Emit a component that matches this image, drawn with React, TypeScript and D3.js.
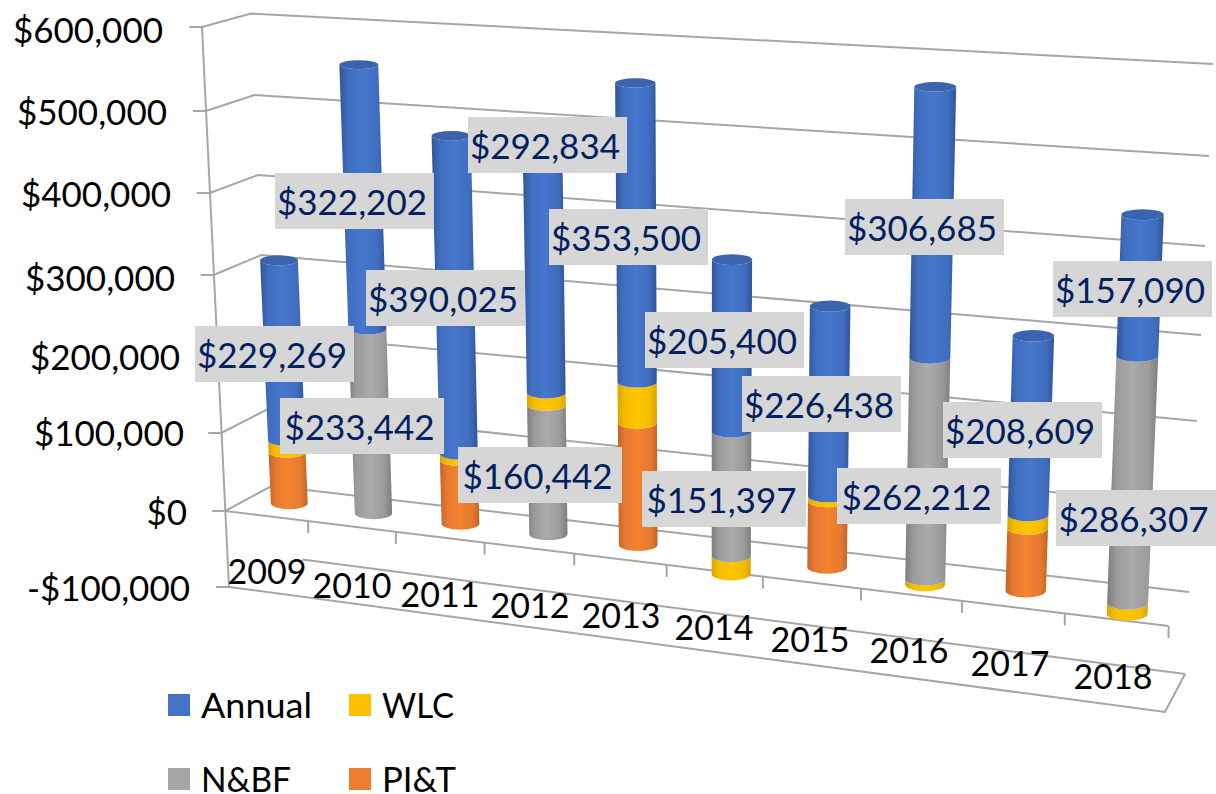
import React from "react";
import * as d3 from "d3";

const years = ["2009","2010","2011","2012","2013","2014","2015","2016","2017","2018"];
const annual = [229269,322202,390025,292834,353500,205400,226438,306685,208609,157090];
const nbf = [0,233442,0,160442,0,151397,0,262212,0,286307];
const wlc = [15000,0,8000,15000,50000,-23000,6000,-7000,16000,-13000];
const pit = [66000,0,80000,0,150000,0,80000,0,74000,0];
const axisTicks = [-100000,0,100000,200000,300000,400000,500000,600000];
const axisLabels = ["-$100,000","$0","$100,000","$200,000","$300,000","$400,000","$500,000","$600,000"];

// 3D frame: where each value falls on the four vertical edges of the box
const frontLeftY = [587,511,433,353,275,193,111,27];
const frontRightY = [712,626,539,451,362,271,177,82];
const backLeftY = [556,486,409,333,255,175,95,13.5];
const backRightY = [674,592,507,421,335,246,156,64];
const frontLeftX = d3.scaleLinear().domain([-100000,600000]).range([229,202]);
const frontRightX = d3.scaleLinear().domain([-100000,600000]).range([1165,1190]);
const backLeftX = d3.scaleLinear().domain([-100000,600000]).range([275,251]);
const backRightX = d3.scaleLinear().domain([-100000,600000]).range([1185,1213]);
const fl = d3.scaleLinear().domain(axisTicks).range(frontLeftY);
const fr = d3.scaleLinear().domain(axisTicks).range(frontRightY);
const bl = d3.scaleLinear().domain(axisTicks).range(backLeftY);
const br = d3.scaleLinear().domain(axisTicks).range(backRightY);
// perspective spacing of the category boundaries
const catBoundary = d3.scaleLinear()
  .domain(d3.range(11))
  .range([0,.088,.181,.275,.37,.468,.57,.674,.781,.89,1]);

function project(f: number, v: number, d: number): [number, number] {
  const xf = frontLeftX(v) + (frontRightX(v) - frontLeftX(v)) * f;
  const xb = backLeftX(v) + (backRightX(v) - backLeftX(v)) * f;
  const yf = fl(v) + (fr(v) - fl(v)) * f;
  const yb = bl(v) + (br(v) - bl(v)) * f;
  return [xf + (xb - xf) * d, yf + (yb - yf) * d];
}

const seriesKeys = ["PI&T","N&BF","WLC","Annual"];
const seriesColors: Record<string, string[]> = {
  "Annual": ["#315697","#3F6DBF","#4677CE","#3A64AB"],
  "WLC": ["#D9A400","#F5BC00","#FFC600","#D9A400"],
  "N&BF": ["#7E7E7E","#9A9A9A","#ABABAB","#8C8C8C"],
  "PI&T": ["#C2652A","#E67A30","#F58330","#C2652A"],
};
const legendColors: Record<string, string> = { "Annual":"#4472C4","WLC":"#FFC000","N&BF":"#A5A5A5","PI&T":"#ED7D31" };
const gradId = (k: string) => "g" + seriesKeys.indexOf(k);

const rows = years.map((y, i) => ({ y, "Annual": annual[i], "N&BF": nbf[i], "WLC": wlc[i], "PI&T": pit[i] }));
const stacked = d3.stack<any>().keys(seriesKeys).offset(d3.stackOffsetDiverging)(rows);

const labelFmt = d3.format("$,");
// data labels: [series, year index, left, top, width] as placed by hand in the reference
const labelLayout: [string, number, number, number, number][] = [
  ["Annual",0,195,326,159],["N&BF",1,280,398,164],["Annual",1,275,173,159],
  ["Annual",2,366,270,159],["N&BF",3,458,447,164],["Annual",3,468,117,159],
  ["Annual",4,549,209,159],["N&BF",5,642,471,164],["Annual",5,645,312,159],
  ["Annual",6,742,376,159],["N&BF",7,837,468,164],["Annual",7,845,199,159],
  ["Annual",8,943,402,159],["N&BF",9,1056,490,160],["Annual",9,1053,261,159],
];
const seriesValues: Record<string, number[]> = { "Annual":annual, "N&BF":nbf, "WLC":wlc, "PI&T":pit };

const yearLabelPos = [[267,570],[352,584],[440,593],[530,604],[621,614],[714,626],[810,638],[909,649],[1010,662],[1113,675]];
const axisLabelRight = [190,187,184,180,175,171,167,163];
const axisLabelY = [587,511,432,356,277,193,111,29];
const legendItems: [string, number, number, number, number][] = [
  ["Annual",168,201,694,111],["WLC",349,382,694,72],["N&BF",168,201,768,90],["PI&T",349,382,768,74],
];

const line = d3.line();
const grid = "#A6A6A6";
const FONT = "Lato, sans-serif";

function cylinderGeom(i: number, v: number) {
  const fc = (catBoundary(i) + catBoundary(i + 1)) / 2;
  const h = 0.0198 + 0.0022 * (i / 9);
  const c = project(fc, v, 0.5);
  const l = project(fc - h, v, 0.5);
  const r = project(fc + h, v, 0.5);
  const diff = project(fc, v, 0)[1] - project(fc, v, 1)[1];
  const ry = 2.5 + 0.13 * Math.abs(diff);
  const rx = (r[0] - l[0]) / 2;
  return { c, l: [c[0] - rx, c[1]], r: [c[0] + rx, c[1]], rx, ry };
}

function segmentPath(i: number, v0: number, v1: number) {
  const a = cylinderGeom(i, v0);
  const b = cylinderGeom(i, v1);
  return `M${a.l[0]},${a.l[1]}A${a.rx},${a.ry} 0 0 0 ${a.r[0]},${a.r[1]}L${b.r[0]},${b.r[1]}A${b.rx},${b.ry} 0 0 1 ${b.l[0]},${b.l[1]}Z`;
}

export default function App() {
  return (
    <svg width={1216} height={794} style={{ position: "absolute", left: 0, top: 0, display: "block" }}>
      <defs>
        {seriesKeys.map((k) => (
          <linearGradient key={k} id={gradId(k)} x1="0" x2="1" y1="0" y2="0">
            <stop offset="0" stopColor={seriesColors[k][0]} />
            <stop offset="0.18" stopColor={seriesColors[k][1]} />
            <stop offset="0.5" stopColor={seriesColors[k][2]} />
            <stop offset="0.82" stopColor={seriesColors[k][1]} />
            <stop offset="1" stopColor={seriesColors[k][0]} />
          </linearGradient>
        ))}
      </defs>
      <rect width={1216} height={794} fill="#fff" />

      {/* back wall and side wall gridlines */}
      <g fill="none" stroke={grid} strokeWidth={2}>
        {axisTicks.map((v, k) => {
          const f0 = project(0, v, 0), b0 = project(0, v, 1), b1 = project(1, v, 1);
          if (k === 0) return <path key={v} d={line([project(0.03, v, 1), b1]) as string} />;
          return <path key={v} d={line([f0, b0, b1]) as string} />;
        })}
        {/* outer edges and tick marks */}
        <path d={line([project(0, 600000, 0), project(0, -100000, 0)]) as string} />
        <path d={line([project(0, -100000, 0), project(1, -100000, 0), project(1, -100000, 1)]) as string} />
        <path d={line([project(0, 0, 0), project(1, 0, 0)]) as string} />
        {axisTicks.map((v) => {
          const p = project(0, v, 0);
          return <path key={"t" + v} d={line([[p[0] - 13, p[1]], p]) as string} />;
        })}
        {d3.range(1, 11).map((i) => {
          const p = project(catBoundary(i), 0, 0);
          return <path key={"c" + i} d={line([p, [p[0], p[1] + 12]]) as string} />;
        })}
      </g>

      {/* stacked cylinders */}
      {years.map((y, i) => {
        const segs = stacked
          .map((s) => ({ key: s.key, v0: s[i][0], v1: s[i][1] }))
          .filter((s) => s.v1 !== s.v0)
          .sort((a, b) => a.v0 - b.v0);
        const top = segs[segs.length - 1];
        const cap = cylinderGeom(i, top.v1);
        return (
          <g key={y}>
            {segs.map((s) => (
              <path key={s.key} d={segmentPath(i, s.v0, s.v1)} fill={`url(#${gradId(s.key)})`} />
            ))}
            <ellipse cx={cap.c[0]} cy={cap.c[1]} rx={cap.rx} ry={cap.ry} fill={seriesColors[top.key][3]} />
          </g>
        );
      })}

      {/* value axis */}
      {axisLabels.map((t, k) => (
        <text key={t} x={axisLabelRight[k]} y={axisLabelY[k]} textAnchor="end" dominantBaseline="central"
          fontFamily={FONT} fontSize={35} fill="#000">{t}</text>
      ))}

      {/* category axis */}
      {years.map((y, i) => (
        <text key={y} x={yearLabelPos[i][0]} y={yearLabelPos[i][1]} textAnchor="middle" dominantBaseline="central"
          fontFamily={FONT} fontSize={34} fill="#000">{y}</text>
      ))}

      {/* data labels */}
      {labelLayout.map(([k, i, x, y, w]) => (
        <g key={k + i}>
          <rect x={x} y={y} width={w} height={56} fill="#D6D6D6" />
          <text x={x + w / 2 - 2.5} y={y + 28} textAnchor="middle" dominantBaseline="central"
            fontFamily={FONT} fontSize={35} fill="#002060">{labelFmt(seriesValues[k][i])}</text>
        </g>
      ))}

      {/* legend */}
      {legendItems.map(([k, sx, tx, sy, w]) => (
        <g key={k}>
          <rect x={sx} y={sy} width={22} height={22} fill={legendColors[k]} />
          <text x={tx} y={sy + 10} dominantBaseline="central" fontFamily={FONT} fontSize={34} fill="#000"
            textLength={w} lengthAdjust="spacingAndGlyphs">{k}</text>
        </g>
      ))}
    </svg>
  );
}
